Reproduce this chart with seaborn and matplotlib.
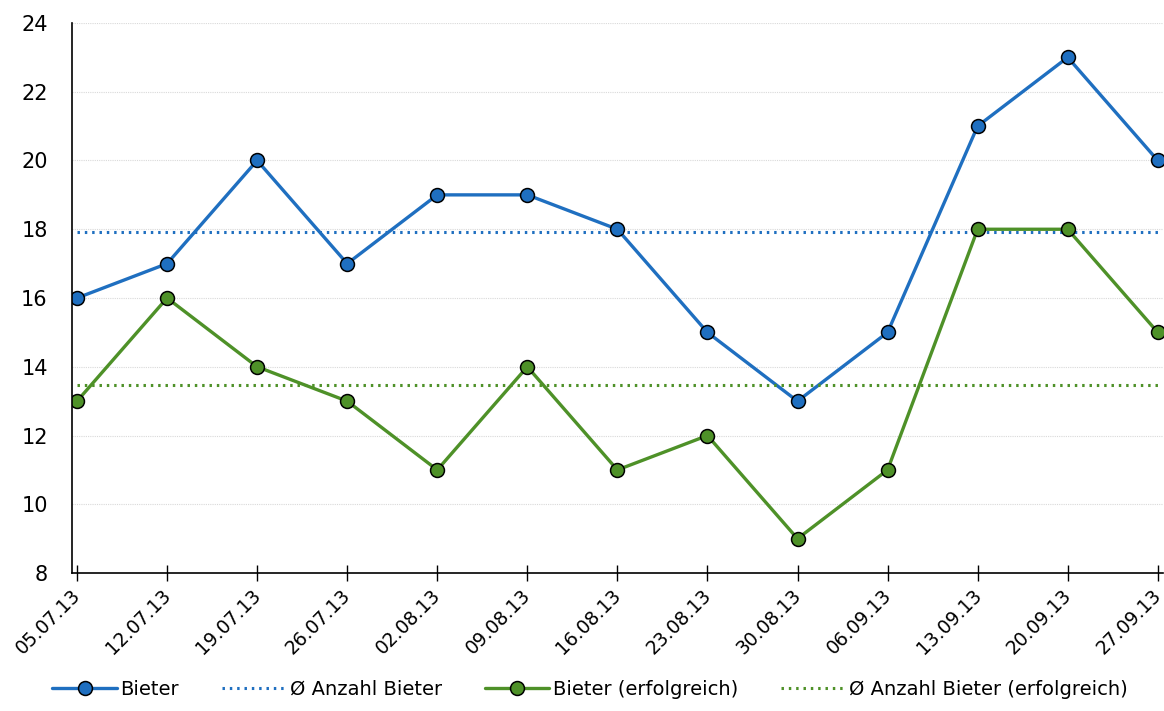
import pandas as pd
import numpy as np
import seaborn as sns
import matplotlib.pyplot as plt
import matplotlib.transforms as mtransforms

# data
dates = ['05.07.13', '12.07.13', '19.07.13', '26.07.13', '02.08.13', '09.08.13', '16.08.13',
         '23.08.13', '30.08.13', '06.09.13', '13.09.13', '20.09.13', '27.09.13']
bieter = [16, 17, 20, 17, 19, 19, 18, 15, 13, 15, 21, 23, 20]
bieter_erfolg = [13, 16, 14, 13, 11, 14, 11, 12, 9, 11, 18, 18, 15]
avg_bieter = [17.92] * 13
avg_erfolg = [13.46] * 13

blue = '#1f6fc0'
green = '#4e9128'

df = pd.DataFrame({'pos': range(len(dates)), 'datum': dates,
                   'Bieter': bieter, 'Bieter (erfolgreich)': bieter_erfolg,
                   'avg_b': avg_bieter, 'avg_e': avg_erfolg})

sns.set_style('white')
plt.rcParams['font.family'] = ['DejaVu Sans']
plt.rcParams['text.color'] = 'black'
plt.rcParams['xtick.color'] = 'black'
plt.rcParams['ytick.color'] = 'black'

fig = plt.figure(figsize=(11.64, 7.11), dpi=100)
ax = fig.add_axes([0.0619, 0.194, 0.937, 0.7737])

sns.lineplot(data=df, x='pos', y='Bieter', ax=ax, color=blue, lw=2.4, marker='o',
             markersize=10, markeredgecolor='black', markeredgewidth=1.1, label='Bieter')
sns.lineplot(data=df, x='pos', y='avg_b', ax=ax, color=blue, lw=2.2, ls=(0, (0.8, 1.6)),
             label='\u00d8 Anzahl Bieter')
sns.lineplot(data=df, x='pos', y='Bieter (erfolgreich)', ax=ax, color=green, lw=2.4, marker='o',
             markersize=10, markeredgecolor='black', markeredgewidth=1.1, label='Bieter (erfolgreich)')
sns.lineplot(data=df, x='pos', y='avg_e', ax=ax, color=green, lw=2.2, ls=(0, (0.8, 1.6)),
             label='\u00d8 Anzahl Bieter (erfolgreich)')

ax.set_xlim(-0.055, len(dates) - 1 + 0.055)
ax.set_ylim(8, 24)
ax.set_yticks(np.arange(8, 25, 2))
ax.yaxis.grid(True, color='#d9d9d9', ls=(0, (1, 1)), lw=0.8)
ax.xaxis.grid(False)
ax.set_axisbelow(True)
ax.set_xticks(df['pos'])
ax.set_xticklabels(dates, rotation=45, ha='right', va='top', rotation_mode='anchor')
ax.tick_params(axis='x', bottom=True, direction='inout', length=12, width=1,
               labelsize=13.5, pad=3)
ax.tick_params(axis='y', left=False, labelsize=15, pad=14)
ax.set_xlabel('')
ax.set_ylabel('')
for s in ['top', 'right']:
    ax.spines[s].set_visible(False)
for s in ['left', 'bottom']:
    ax.spines[s].set_color('black')
    ax.spines[s].set_linewidth(1.2)

# nudge the rotated date labels a little to the left so the last one fits
shift = mtransforms.ScaledTranslation(-6 / 100, 0, fig.dpi_scale_trans)
for lbl in ax.get_xticklabels():
    lbl.set_transform(lbl.get_transform() + shift)

ax.legend(loc='upper center', bbox_to_anchor=(0.475, -0.18), ncol=4, frameon=False,
          fontsize=14, handlelength=3.3, columnspacing=2.2, handletextpad=0.2,
          borderaxespad=0)

fig.savefig('out.png', dpi=100)
